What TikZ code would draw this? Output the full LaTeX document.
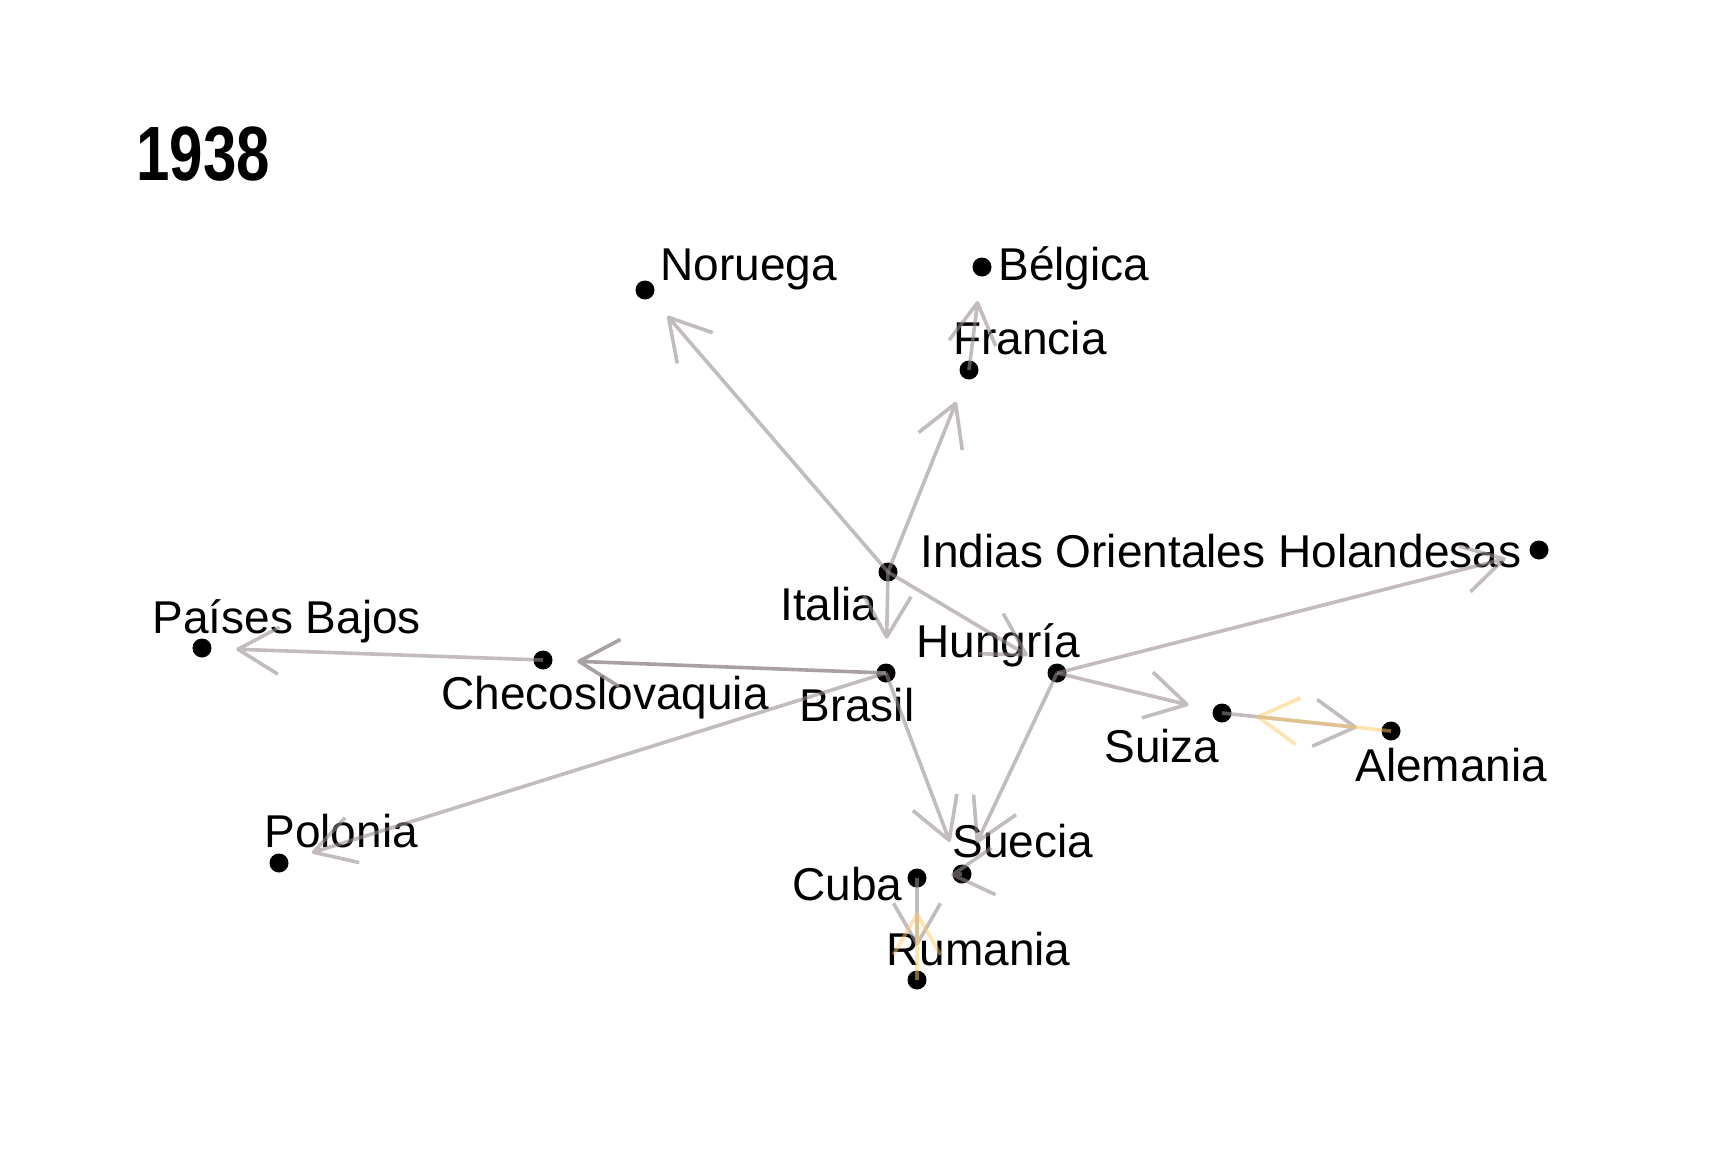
\documentclass[tikz,border=0pt]{standalone}
\usepackage{fontspec}
\setmainfont{Liberation Sans}
\usetikzlibrary{calc}

\definecolor{linkgray}{RGB}{150,140,145}
\definecolor{linkgold}{RGB}{255,200,100}

\tikzset{
  dot/.style={circle, fill=black, inner sep=0pt, minimum size=9.5pt},
  lbl/.style={anchor=base west, inner sep=0pt, font=\fontsize{23pt}{23pt}\selectfont},
  title/.style={anchor=base west, inner sep=0pt, font=\fontsize{38.5pt}{38.5pt}\selectfont\bfseries},
  link/.style={draw=linkgray, draw opacity=0.58, line width=1.8pt, line join=round},
  linkdark/.style={link, draw opacity=0.82},
  linkgold/.style={link, draw=linkgold, draw opacity=0.5},
}

% directed link: stops short of the target, open V head
\newcommand{\flow}[3][link]{%
  \path ($(#3.center)!18pt!(#2.center)$) coordinate (tip#2#3);
  \draw[#1] (#2.center) -- (tip#2#3) -- ($(tip#2#3)!23.5pt!30:(#2.center)$)
            (tip#2#3) -- ($(tip#2#3)!23.5pt!-30:(#2.center)$);
}

\begin{document}
\begin{tikzpicture}[x=0.5pt,y=-0.5pt]
\fill[white] (0,0) rectangle (1731,1153);
\useasboundingbox (0,0) rectangle (1731,1153);

\node[title] (yr) at (136,180) {\scalebox{0.78}[1]{1938}};

% countries
\node[dot] (nor) at (645,290) {};
\node[dot] (bel) at (982,267) {};
\node[dot] (fra) at (969,370) {};
\node[dot] (ita) at (888,572) {};
\node[dot] (ioh) at (1539,550) {};
\node[dot] (pb)  at (202,648) {};
\node[dot] (che) at (543,660) {};
\node[dot] (bra) at (886,673) {};
\node[dot] (hun) at (1057,673) {};
\node[dot] (sui) at (1222,713) {};
\node[dot] (ale) at (1391,731) {};
\node[dot] (pol) at (279,863) {};
\node[dot] (sue) at (962,874) {};
\node[dot] (cub) at (917,878) {};
\node[dot] (rum) at (917,980) {};

% names
\node[lbl] (lnor) at (660,280) {Noruega};
\node[lbl] (lbel) at (998,280) {Bélgica};
\node[lbl] (lfra) at (953,354) {Francia};
\node[lbl] (lita) at (780,620) {Italia};
\node[lbl] (lioh) at (920,567) {Indias Orientales Holandesas};
\node[lbl] (lpb)  at (152,633) {Países Bajos};
\node[lbl] (lche) at (441,709) {Checoslovaquia};
\node[lbl] (lbra) at (799,721) {Brasil};
\node[lbl] (lhun) at (916,657) {Hungría};
\node[lbl] (lsui) at (1104,762) {Suiza};
\node[lbl] (lale) at (1355,781) {Alemania};
\node[lbl] (lpol) at (264,847) {Polonia};
\node[lbl] (lsue) at (952,857) {Suecia};
\node[lbl] (lcub) at (792,900) {Cuba};
\node[lbl] (lrum) at (886,965) {Rumania};

% links
\flow{ita}{nor}
\flow{ita}{fra}
\flow{fra}{bel}
\flow{ita}{bra}
\flow{ita}{hun}
\flow[linkdark]{bra}{che}
\flow{che}{pb}
\flow{bra}{pol}
\flow{bra}{sue}
\flow{hun}{sue}
\flow{hun}{ioh}
\flow{hun}{sui}
\flow{sui}{ale}
\flow[linkgold]{ale}{sui}
\flow{sue}{cub}
\flow{cub}{rum}
\flow[linkgold]{rum}{cub}
\end{tikzpicture}
\end{document}
